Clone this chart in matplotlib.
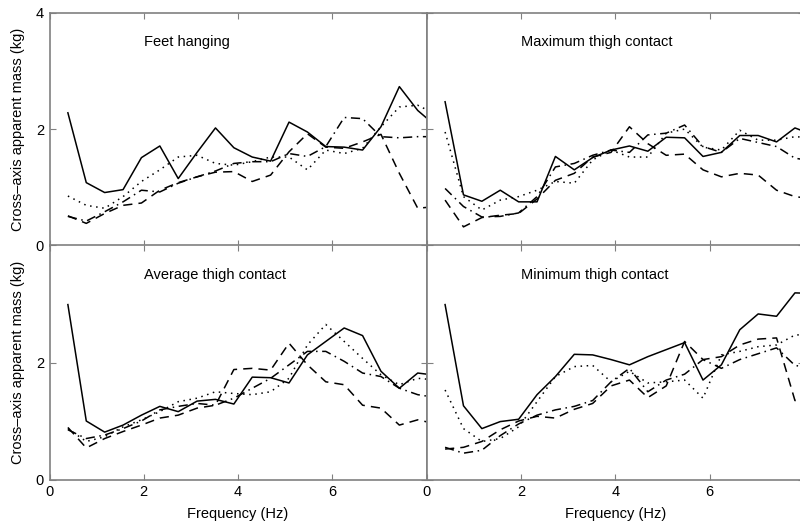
import matplotlib
matplotlib.use("Agg")
import matplotlib.pyplot as plt

plt.rcParams["font.family"] = ["Liberation Sans", "DejaVu Sans"]

# frequency bins (Hz)
FREQ = [0.39, 0.78, 1.17, 1.56, 1.95, 2.34, 2.73, 3.13, 3.52, 3.91, 4.30,
        4.69, 5.08, 5.47, 5.86, 6.25, 6.64, 7.03, 7.42, 7.81, 8.20]

# cross-axis apparent mass (kg), one list per curve
FEET_SOLID = [2.28, 1.08, 0.91, 0.96, 1.51, 1.71, 1.15, 1.60, 2.02, 1.68, 1.52,
              1.45, 2.12, 1.95, 1.70, 1.69, 1.64, 2.04, 2.73, 2.32, 2.05]
FEET_DOTTED = [0.85, 0.69, 0.64, 0.84, 1.10, 1.30, 1.52, 1.55, 1.41, 1.38, 1.44,
               1.52, 1.52, 1.30, 1.64, 1.58, 1.67, 2.04, 2.38, 2.41, 2.25]
FEET_DASHED = [0.51, 0.38, 0.55, 0.69, 0.73, 0.95, 1.08, 1.18, 1.26, 1.27, 1.10,
               1.21, 1.61, 1.92, 1.69, 1.67, 1.78, 1.91, 1.24, 0.64, 0.67]
FEET_DASHDOT = [0.50, 0.42, 0.58, 0.75, 0.95, 0.92, 1.07, 1.18, 1.28, 1.41, 1.44,
                1.44, 1.58, 1.53, 1.70, 2.20, 2.18, 1.87, 1.85, 1.87, 1.87]

MAX_SOLID = [2.47, 0.87, 0.76, 0.95, 0.75, 0.75, 1.53, 1.30, 1.51, 1.64, 1.71,
             1.62, 1.86, 1.85, 1.53, 1.60, 1.89, 1.89, 1.78, 2.02, 1.90]
MAX_DOTTED = [1.95, 0.84, 0.61, 0.78, 0.84, 0.95, 1.10, 1.07, 1.47, 1.64, 1.52,
              1.52, 1.93, 2.00, 1.69, 1.64, 1.98, 1.81, 1.81, 1.87, 1.85]
MAX_DASHED = [0.78, 0.32, 0.48, 0.52, 0.55, 0.80, 1.12, 1.24, 1.52, 1.60, 2.04,
              1.75, 1.55, 1.57, 1.30, 1.18, 1.24, 1.21, 0.95, 0.84, 0.80]
MAX_DASHDOT = [0.98, 0.67, 0.49, 0.50, 0.56, 0.84, 1.35, 1.41, 1.55, 1.64, 1.60,
               1.90, 1.93, 2.07, 1.70, 1.60, 1.84, 1.77, 1.70, 1.50, 1.45]

AVG_SOLID = [2.99, 1.00, 0.81, 0.93, 1.10, 1.25, 1.16, 1.34, 1.37, 1.29, 1.75,
             1.74, 1.65, 2.13, 2.36, 2.59, 2.46, 1.85, 1.56, 1.82, 1.78]
AVG_DOTTED = [0.87, 0.65, 0.73, 0.90, 1.02, 1.16, 1.33, 1.39, 1.50, 1.47, 1.45,
              1.50, 1.73, 2.30, 2.65, 2.36, 2.07, 1.79, 1.62, 1.73, 1.70]
AVG_DASHED = [0.89, 0.54, 0.70, 0.82, 0.93, 1.05, 1.10, 1.22, 1.27, 1.88, 1.90,
              1.87, 2.33, 1.96, 1.67, 1.62, 1.27, 1.22, 0.93, 1.02, 0.95]
AVG_DASHDOT = [0.85, 0.70, 0.76, 0.87, 1.00, 1.19, 1.25, 1.30, 1.27, 1.39, 1.56,
               1.73, 1.96, 2.19, 2.19, 2.02, 1.82, 1.76, 1.56, 1.45, 1.40]

MIN_SOLID = [2.99, 1.26, 0.87, 0.99, 1.03, 1.45, 1.76, 2.14, 2.13, 2.05, 1.96,
             2.10, 2.22, 2.34, 1.70, 1.96, 2.56, 2.83, 2.79, 3.19, 3.18]
MIN_DOTTED = [1.53, 0.87, 0.65, 0.70, 0.90, 1.33, 1.76, 1.93, 1.95, 1.67, 1.85,
              1.65, 1.67, 1.70, 1.39, 2.13, 2.19, 2.27, 2.30, 2.47, 2.48]
MIN_DASHED = [0.52, 0.55, 0.65, 0.85, 1.00, 1.08, 1.05, 1.20, 1.30, 1.60, 1.70,
              1.40, 1.60, 2.36, 2.05, 2.10, 2.30, 2.40, 2.42, 1.35, 1.30]
MIN_DASHDOT = [0.55, 0.45, 0.50, 0.75, 0.95, 1.10, 1.19, 1.25, 1.35, 1.67, 1.90,
               1.50, 1.70, 1.80, 2.05, 1.90, 2.05, 2.15, 2.25, 1.95, 1.90]

TITLES = ["Feet hanging", "Maximum thigh contact",
          "Average thigh contact", "Minimum thigh contact"]

STYLES = ["-", (0, (1, 3)), (0, (6, 4)), (0, (6, 3, 1, 3))]
SPINE = "#808080"

W, H = 800, 524
fig = plt.figure(figsize=(W / 100, H / 100), dpi=100)
fig.patch.set_facecolor("white")


def add_panel(x0, y0, x1, y1):
    return fig.add_axes([x0 / W, 1 - y1 / H, (x1 - x0) / W, (y1 - y0) / H])


LEFT, MID, RIGHT = 49.5, 426.7, 803.9
TOP, CENTER, BOTTOM = 12.7, 245.5, 479.5

panels = [
    (add_panel(LEFT, TOP, MID, CENTER), [FEET_SOLID, FEET_DOTTED, FEET_DASHED, FEET_DASHDOT]),
    (add_panel(MID, TOP, RIGHT, CENTER), [MAX_SOLID, MAX_DOTTED, MAX_DASHED, MAX_DASHDOT]),
    (add_panel(LEFT, CENTER, MID, BOTTOM), [AVG_SOLID, AVG_DOTTED, AVG_DASHED, AVG_DASHDOT]),
    (add_panel(MID, CENTER, RIGHT, BOTTOM), [MIN_SOLID, MIN_DOTTED, MIN_DASHED, MIN_DASHDOT]),
]

for i, ((ax, curves), title) in enumerate(zip(panels, TITLES)):
    for vals, ls in zip(curves, STYLES):
        ax.plot(FREQ, vals, color="black", linestyle=ls, linewidth=1.1)
    ax.set_xlim(0, 8)
    ax.set_ylim(0, 4)
    ax.text(2.0, 3.5, title, fontsize=10.5, ha="left", va="center")

    for s in ax.spines.values():
        s.set_color(SPINE)
        s.set_linewidth(1.2)
    ax.set_xticks([0, 2, 4, 6, 8])
    ax.set_yticks([0, 2, 4])
    ax.tick_params(direction="in", top=True, right=True, length=4,
                   color=SPINE, labelsize=10.5, pad=4)

    row, col = divmod(i, 2)
    if row == 1:
        ax.set_xticklabels(["0", "2", "4", "6", ""])
        ax.set_xlabel("Frequency (Hz)", fontsize=10.5, labelpad=6)
    else:
        ax.set_xticklabels([])
    if col == 0:
        ax.set_yticklabels(["0", "2", "4"] if row == 0 else ["0", "2", ""])
        ax.set_ylabel("Cross\u2013axis apparent mass (kg)", fontsize=10.5)
        ax.yaxis.set_label_coords(-0.066, 0.5)
    else:
        ax.set_yticklabels([])

fig.savefig("out.png", dpi=100, facecolor="white")
